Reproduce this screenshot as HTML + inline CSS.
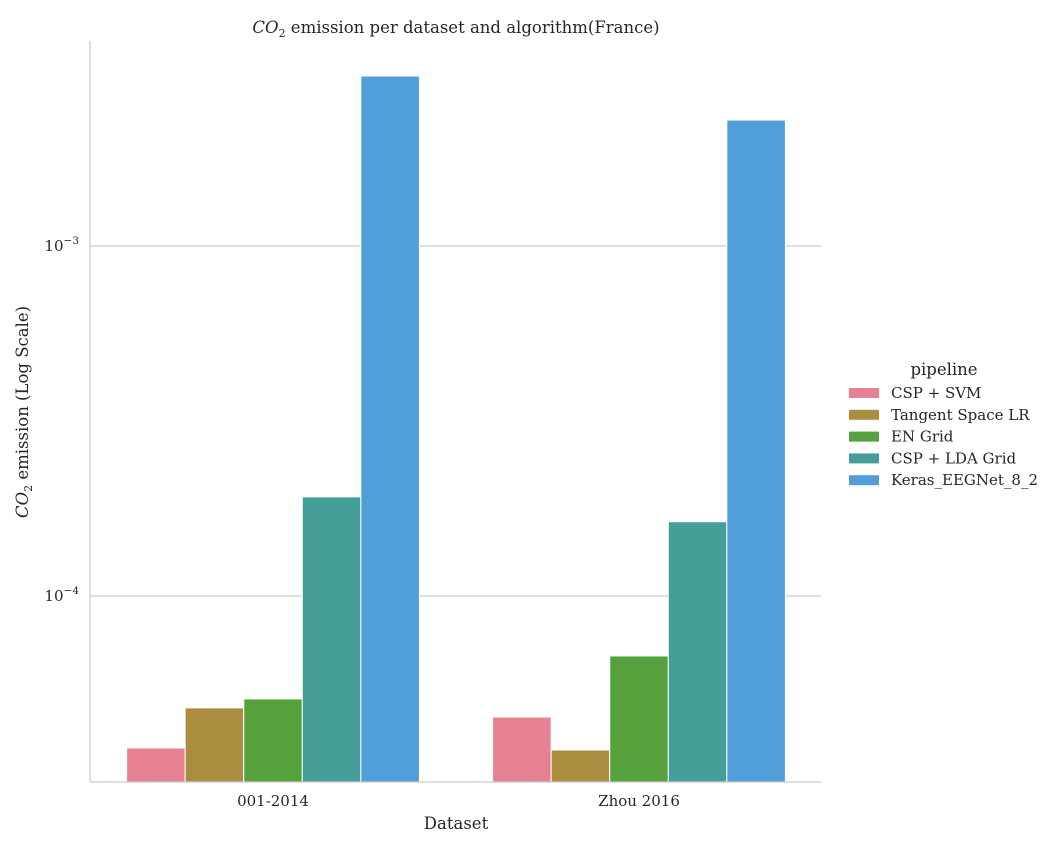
<!DOCTYPE html>
<html><head><meta charset="utf-8"><style>
body{margin:0;background:#fff;}
svg{display:block;font-family:"DejaVu Serif","Liberation Serif",serif;}
</style></head><body>
<svg id="chart" width="1054" height="850" xmlns="http://www.w3.org/2000/svg">
<text x="456" y="33" text-anchor="middle" font-size="16.5" fill="#262626"><tspan font-style="italic">CO</tspan><tspan font-size="11" dy="4">2</tspan><tspan dy="-4"> emission per dataset and algorithm(France)</tspan></text>
<g id="grid"></g>
<g id="bars"></g>
<line x1="90" y1="41" x2="90" y2="782" stroke="#ccc" stroke-width="1.3"/>
<line x1="90" y1="782" x2="821" y2="782" stroke="#ccc" stroke-width="1.3"/>
<g id="xticks"></g>
<g id="yticks"></g>
<text x="456" y="829" text-anchor="middle" font-size="16.5" fill="#262626">Dataset</text>
<text transform="translate(28,412) rotate(-90)" text-anchor="middle" font-size="16.5" fill="#262626"><tspan font-style="italic">CO</tspan><tspan font-size="11" dy="4">2</tspan><tspan dy="-4"> emission (Log Scale)</tspan></text>
<g id="legend"></g>
</svg>
<script>
const categories = ["001-2014", "Zhou 2016"];
const pipelines = ["CSP + SVM", "Tangent Space LR", "EN Grid", "CSP + LDA Grid", "Keras_EEGNet_8_2"];
const colors = ["#e68193", "#aa8d3f", "#57a13d", "#459e97", "#519fd8"];
const valuesA = [3.68e-5, 4.79e-5, 5.08e-5, 1.92e-4, 3.06e-3];
const valuesB = [4.51e-5, 3.63e-5, 6.74e-5, 1.63e-4, 2.29e-3];
const yTickExp = [-4, -3];

const NS = "http://www.w3.org/2000/svg";
const yPix = v => 596 - (Math.log10(v) + 4) * 350;
const baseY = 782;
const band = 366, left = 90;
const xCenter = i => left + band * (i + 0.5);
const barW = band * 0.8 / pipelines.length;
function mk(tag, attrs, parent){const e=document.createElementNS(NS,tag);for(const k in attrs)e.setAttribute(k,attrs[k]);parent.appendChild(e);return e;}
const grid=document.getElementById('grid'), yt=document.getElementById('yticks');
yTickExp.forEach(ex=>{
  const y=yPix(Math.pow(10,ex));
  const l=mk('line',{x1:90,x2:821,y1:y,y2:y,stroke:'#cccccc','stroke-width':1.2},grid);
  
  
  const t=mk('text',{x:79,y:y+5,'text-anchor':'end','font-size':15,fill:'#262626'},yt);
  
  
  t.innerHTML='10<tspan font-size="10.5" dy="-7">\u2212'+(-ex)+'</tspan>';
});
const bars=document.getElementById('bars'), xt=document.getElementById('xticks');
[valuesA, valuesB].forEach((vals,ci)=>{
  const start=xCenter(ci)-band*0.4;
  vals.forEach((v,pi)=>{
    const y=yPix(v);
    const r=mk('rect',{x:start+pi*barW,y:y,width:barW,height:baseY-y,fill:colors[pi],stroke:'#fff','stroke-width':1},bars);
    
    
  });
  const t=mk('text',{x:xCenter(ci),y:806,'text-anchor':'middle','font-size':15,fill:'#262626'},xt);
  
  
  t.textContent=categories[ci];
});
const lg=document.getElementById('legend');
const lt=mk('text',{x:944,y:375,'text-anchor':'middle','font-size':16.5,fill:'#262626'},lg);


lt.textContent='pipeline';
pipelines.forEach((p,i)=>{
  const y=393+i*21.8;
  const r=mk('rect',{x:849,y:y-5,width:30,height:10,fill:colors[i]},lg);
  
  
  const t=mk('text',{x:891,y:y+5,'font-size':15,fill:'#262626'},lg);
  
  
  t.textContent=p;
});
</script>
</body></html>
